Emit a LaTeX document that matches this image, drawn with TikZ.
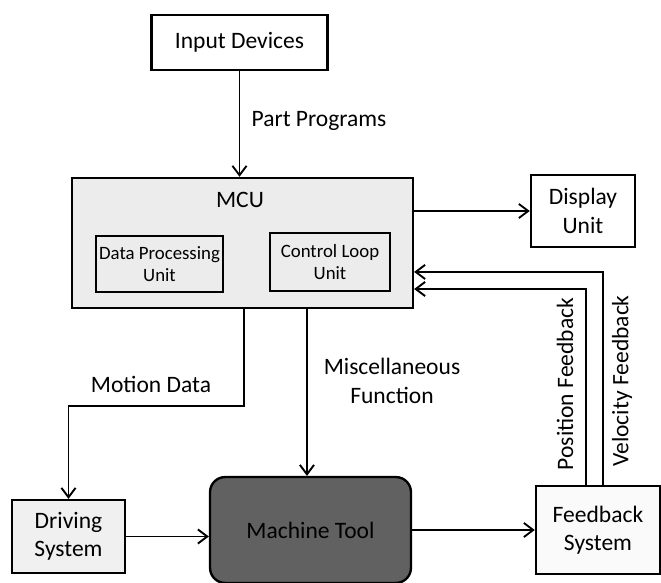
\documentclass[tikz,border=0pt]{standalone}
\usepackage{fontspec}
\setmainfont{Carlito}
\usetikzlibrary{arrows.meta}
\begin{document}
\begin{tikzpicture}[x=0.425pt, y=-0.425pt]
\normalsize

\tikzstyle{unit}    = [draw, rectangle, line width=1pt, black, align=center, inner sep=0pt]
\tikzstyle{subunit} = [unit, font=\footnotesize]
\tikzstyle{conn}    = [line width=0.8pt, -{Straight Barb[length=4pt, width=6pt]}]
\tikzstyle{lbl}     = [black]

\useasboundingbox (0,0) rectangle (661,583);

\node [unit, minimum width=74.8pt, minimum height=23.4pt] (InDev) at (239.5,42.5) {Input Devices};
\node [unit, fill=gray!15, minimum width=144.9pt, minimum height=55.25pt] (MCU) at (242.5,243) {};
\node [lbl] (MCUt) at (240,200) {MCU};
\node [subunit, minimum width=54pt, minimum height=23.8pt] (DPU) at (159.5,264) {Data Processing\\Unit};
\node [subunit, minimum width=51pt, minimum height=24.65pt] (CLU) at (330,262) {Control Loop\\Unit};
\node [unit, minimum width=44.2pt, minimum height=30.6pt] (Disp) at (583,211) {Display\\Unit};
\node [unit, fill=gray!12, minimum width=48pt, minimum height=31pt] (Drive) at (68.5,536.5) {Driving\\System};
\node [unit, rounded corners=6.4pt, fill=black!62, text=black, minimum width=85.4pt, minimum height=45pt] (MTool) at (310.5,530) {Machine Tool};
\node [unit, fill=gray!4, minimum width=52.7pt, minimum height=37.4pt] (FbSys) at (598,530) {Feedback\\System};

\draw [conn] (InDev) -- (MCU.north -| InDev);
\draw [conn] (MCU.east |- Disp) -- (Disp);
\draw [conn] ([xshift=0.6pt]MCU.south) -- ++(0,97) -| (Drive);
\draw [conn] ([xshift=-1.5pt]MTool.north |- MCU.south) -- ([xshift=-1.5pt]MTool.north);
\draw [conn] (Drive) -- (Drive -| MTool.west);
\draw [conn] (MTool) -- (MTool -| FbSys.west);
\draw [conn] ([xshift=-5.1pt]FbSys.north) |- ([yshift=-19.55pt]MCU.east);
\draw [conn] ([xshift=2.1pt]FbSys.north) |- ([yshift=-12.3pt]MCU.east);

\node [lbl] (PartProg) at (319,121) {Part Programs};
\node [lbl] (MotData) at (151,384) {Motion Data};
\node [lbl, align=center] (MiscFn) at (392,381) {Miscellaneous\\Function};
\node [lbl, rotate=90] (PosFb) at (565,384) {Position Feedback};
\node [lbl, rotate=90] (VelFb) at (622,381) {Velocity Feedback};
\end{tikzpicture}
\end{document}
